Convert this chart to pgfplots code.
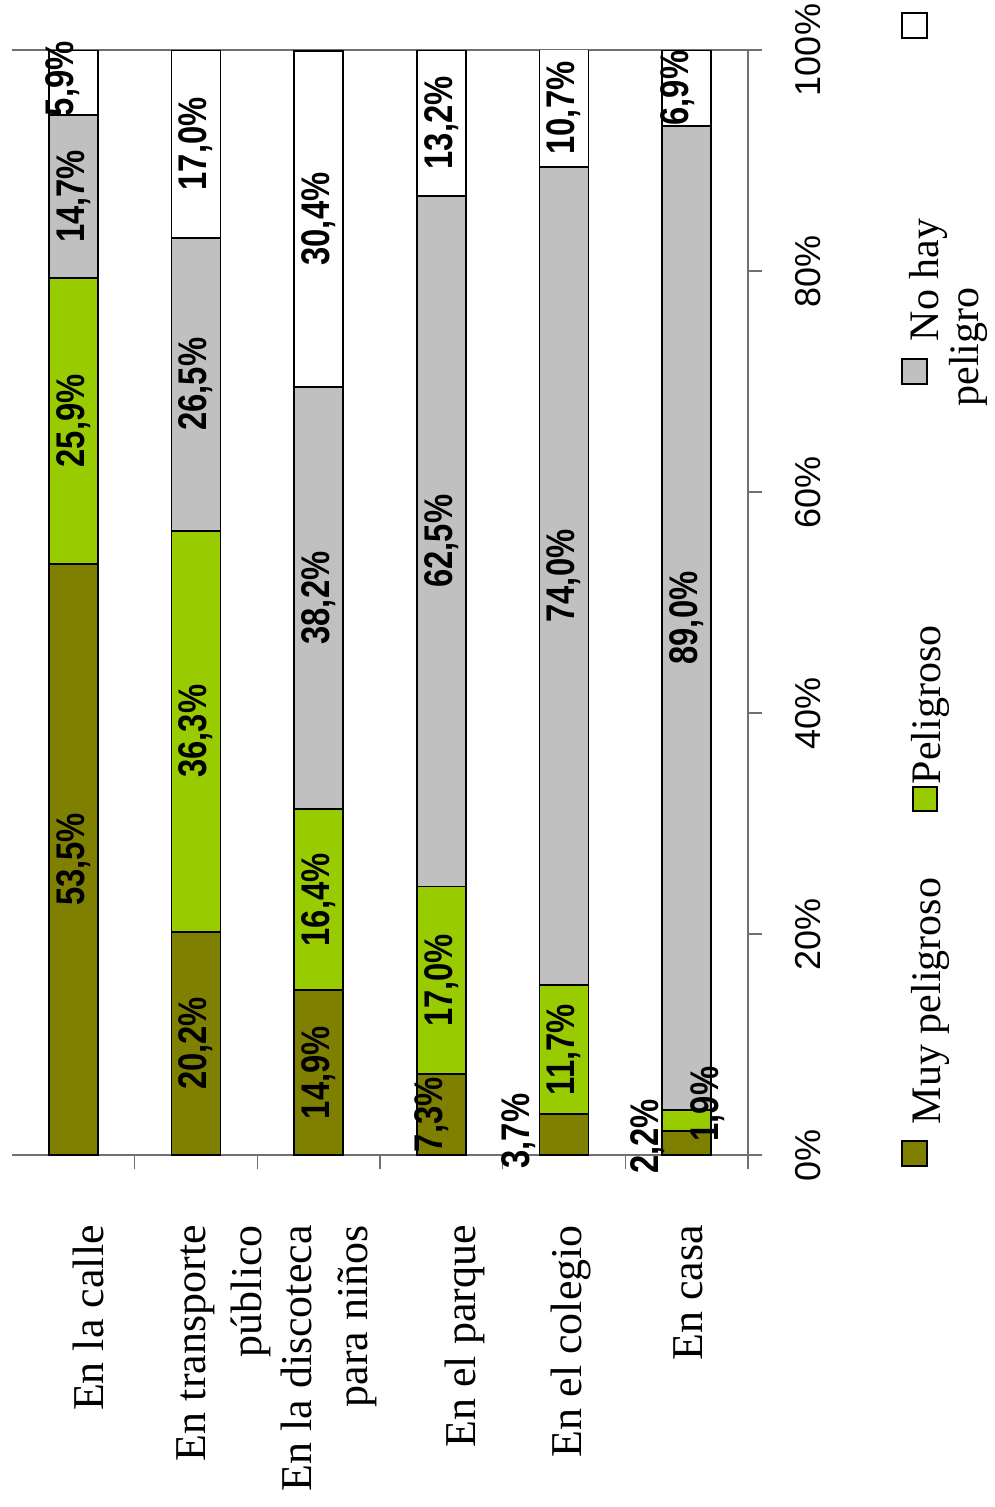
\documentclass[border=0pt]{standalone}
\usepackage{fontspec}
\setmainfont{Liberation Serif}
\newfontfamily\arialfont{Liberation Sans}
\newfontfamily\labfont[FakeStretch=0.82]{Liberation Sans}
\usepackage{pgfplots}
\usepackage{pgfplotstable}
\pgfplotsset{compat=1.18}
\definecolor{cMuy}{HTML}{808000}
\definecolor{cPel}{HTML}{99CC00}
\definecolor{cNo}{HTML}{C0C0C0}
\definecolor{cAx}{HTML}{707070}
\newcommand{\legfont}{\fontsize{42}{40}\selectfont}

\pgfplotstableread{
x muy pel nohay blanco
0 53.5 25.9 14.7 5.9
1 20.2 36.3 26.5 17.0
2 14.9 16.4 38.2 30.4
3 7.3 17.0 62.5 13.2
4 3.7 11.7 74.0 10.7
5 2.2 1.9 89.0 6.9
}\datatable

\pgfplotstableread{
x y lab
0 26.75 53,5
0 66.45 25,9
0 86.75 14,7
-0.09 97.4 5,9
1 10.1 20,2
1 38.35 36,3
1 69.75 26,5
1 91.5 17,0
2 7.45 14,9
2 23.1 16,4
2 50.4 38,2
2 84.7 30,4
2.92 3.65 7,3
3 15.8 17,0
3 55.55 62,5
3 93.4 13,2
3.63 2.17 3,7
4 9.55 11,7
4 52.4 74,0
4 94.75 10,7
4.68 1.7 2,2
5.17 4.6 1,9
5 48.6 89,0
4.93 96.55 6,9
}\labtable

\pgfplotsset{
  legMuy/.style={legend image code/.code={
    \path[draw=none, fill=none] (0pt,12.5pt) rectangle (25pt,-12.5pt);
    \draw[##1, overlay, line width=1.8pt] (0pt,-12.5pt) rectangle (25pt,12.5pt);
    \node[overlay, rotate=90, anchor=base west, inner sep=0pt, font=\legfont, text=black, fill=none, draw=none] at (39pt,29.5pt) {Muy peligroso};
  }},
  legPel/.style={legend image code/.code={
    \path[draw=none, fill=none] (0pt,12.5pt) rectangle (25pt,-341.5pt);
    \draw[##1, overlay, line width=1.8pt] (11pt,-11.5pt) rectangle (35pt,12.5pt);
    \node[overlay, rotate=90, anchor=base west, inner sep=0pt, font=\legfont, text=black, fill=none, draw=none] at (39pt,15.5pt) {Peligroso};
  }},
  legNo/.style={legend image code/.code={
    \path[draw=none, fill=none] (0pt,12.5pt) rectangle (25pt,-415.5pt);
    \draw[##1, overlay, line width=1.8pt] (0pt,-12.5pt) rectangle (25pt,12.5pt);
    \node[overlay, rotate=90, anchor=base west, inner sep=0pt, font=\legfont, text=black, fill=none, draw=none] at (37pt,30.5pt) {No hay};
    \node[overlay, rotate=90, anchor=base west, inner sep=0pt, font=\legfont, text=black, fill=none, draw=none] at (77pt,-35pt) {peligro};
  }},
  legBl/.style={legend image code/.code={
    \path[draw=none, fill=none] (0pt,12.5pt) rectangle (25pt,-333.5pt);
    \draw[##1, overlay, line width=1.8pt] (0pt,-12.5pt) rectangle (25pt,12.5pt);
  }},
}

\begin{document}
\begin{tikzpicture}
\useasboundingbox (0,0) rectangle (995pt,-1507pt);
\begin{axis}[
  at={(12pt,-1155pt)}, anchor=south west,
  scale only axis, width=736pt, height=1105pt,
  ybar stacked, bar width=49pt,
  xmin=-0.5, xmax=5.5, ymin=0, ymax=100,
  separate axis lines,
  axis x line*=bottom, axis y line*=right,
  axis line style={draw=cAx, line width=1.5pt},
  tick align=outside,
  major tick length=14pt,
  tick style={draw=cAx, line width=1.5pt},
  xtick={0.5,1.5,2.5,3.5,4.5,5.5},
  xticklabels={},
  extra x ticks={0.12,1.23,2.08,3.19,4.06,5.01},
  extra x tick labels={En la calle, {En transporte\\público}, {En la discoteca\\para niños}, En el parque, En el colegio, En casa},
  extra x tick style={major tick length=0pt, xticklabel style={yshift=-70pt, rotate=90, anchor=east, align=right, inner sep=0pt, font=\fontsize{44}{56}\selectfont}},
  ytick={0,20,40,60,80,100},
  yticklabels={0\%,20\%,40\%,60\%,80\%,100\%},
  yticklabel style={xshift=33pt, rotate=90, anchor=north, inner sep=0pt, font=\arialfont\fontsize{36}{40}\selectfont},
  extra y ticks={100}, extra y tick labels={},
  extra y tick style={grid=major, major grid style={draw=cAx, line width=1.5pt}},
  legend columns=1,
  reverse legend,
  legend style={at={(1.2092,1.0335)}, anchor=north west, draw=none, fill=none, inner sep=0pt, outer sep=0pt, row sep=0pt, column sep=0pt, nodes={inner sep=0pt, outer sep=0pt}},
]
\addplot[fill=cMuy, draw=black, line width=1.8pt, legMuy] table[x=x, y=muy]{\datatable};
\addlegendentry{}
\addplot[fill=cPel, draw=black, line width=1.8pt, legPel] table[x=x, y=pel]{\datatable};
\addlegendentry{}
\addplot[fill=cNo, draw=black, line width=1.8pt, legNo] table[x=x, y=nohay]{\datatable};
\addlegendentry{}
\addplot[fill=white, draw=black, line width=1.8pt, legBl] table[x=x, y=blanco]{\datatable};
\addlegendentry{}
\end{axis}
\begin{axis}[
  at={(12pt,-1155pt)}, anchor=south west,
  scale only axis, width=736pt, height=1105pt,
  xmin=-0.5, xmax=5.5, ymin=0, ymax=100,
  hide axis, clip=false,
]
\addplot[draw=none, mark=none, nodes near coords={\pgfplotspointmeta\%}, point meta=explicit symbolic,
  nodes near coords style={rotate=90, anchor=center, inner sep=0pt, text=black, font=\labfont\bfseries\fontsize{40}{40}\selectfont}]
  table[x=x, y=y, meta=lab]{\labtable};
\end{axis}
\end{tikzpicture}
\end{document}
